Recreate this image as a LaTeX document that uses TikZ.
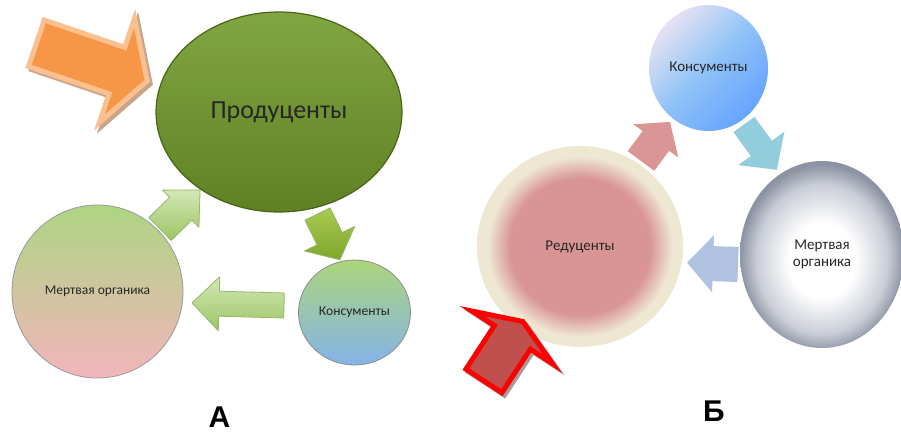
\documentclass[tikz,border=0pt]{standalone}
\usepackage{fontspec}
\setmainfont{Carlito}
\newfontfamily\labfont{Liberation Sans}
\usetikzlibrary{shapes.geometric}
\definecolor{prodtop}{HTML}{80A641}
\definecolor{prodbot}{HTML}{5F8124}
\definecolor{prodline}{HTML}{4A6418}
\definecolor{mogtop}{HTML}{ADD583}
\definecolor{mogmid}{HTML}{D5D1A2}
\definecolor{mogbot}{HTML}{F2B5BB}
\definecolor{kontop}{HTML}{ACD57B}
\definecolor{konmid}{HTML}{A6D6C6}
\definecolor{konbot}{HTML}{84B3EA}
\definecolor{kbtl}{HTML}{E6E2F3}
\definecolor{kbmid}{HTML}{8EC2F7}
\definecolor{kbbr}{HTML}{68A3FF}
\definecolor{redpink}{HTML}{D99594}
\definecolor{redbeige}{HTML}{EEE8D2}
\definecolor{grayA}{HTML}{C9CDD6}
\definecolor{grayB}{HTML}{8C93A3}
\definecolor{orfill}{HTML}{F79646}
\definecolor{orline}{HTML}{FAC090}
\definecolor{orshadow}{HTML}{C9A488}
\definecolor{rdfill}{HTML}{C0504D}
\definecolor{rdshadow}{HTML}{A89A9A}
\definecolor{pinkarr}{HTML}{D99694}
\definecolor{tealarr}{HTML}{92CDDC}
\definecolor{bluearr}{HTML}{AFC2DF}
\definecolor{garlight}{HTML}{D2E8B5}
\definecolor{gardark}{HTML}{9CC566}
\definecolor{garline}{HTML}{93B767}
\definecolor{gbdark}{HTML}{7FA62C}
\definecolor{gblight}{HTML}{A9CB52}
\pgfdeclareradialshading{redushade}{\pgfpoint{0bp}{0bp}}{color(0bp)=(redpink); color(17bp)=(redpink); color(22.5bp)=(redbeige); color(25bp)=(redbeige); color(50bp)=(redbeige)}
\pgfdeclareradialshading{graysph}{\pgfpoint{0bp}{-2bp}}{color(0bp)=(white); color(10bp)=(white); color(20bp)=(grayA); color(25bp)=(grayB); color(50bp)=(grayB)}
\newcommand{\blockarrow}[8]{%
  \begin{scope}[shift={(#1,#2)},rotate=#3]
    \path[#8] (0,-#6) -- (#5,-#6) -- (#5,-#7) -- (#4,0) -- (#5,#7) -- (#5,#6) -- (0,#6) -- cycle;
  \end{scope}}
\tikzset{
  ball/.style={ellipse, inner sep=0pt, outer sep=0pt, align=center, text=black!85},
  gconn/.style={top color=garlight, bottom color=gardark, draw=garline, line width=0.8pt, line join=round},
  gconnb/.style={top color=gblight, bottom color=gbdark, draw=garline, line width=0.8pt, line join=round},
  orangebody/.style={fill=orfill, draw=orline, line width=5pt, line join=miter},
  orangeshade/.style={fill=orshadow, draw=orshadow, line width=5pt, line join=miter},
  redbody/.style={fill=rdfill, draw=red, line width=5pt, line join=miter},
  redshade/.style={fill=rdshadow, draw=rdshadow, line width=5pt, line join=miter},
  panel/.style={font=\labfont\bfseries\fontsize{30}{34}\selectfont, inner sep=0pt, anchor=base, text depth=0pt}
}
\begin{document}
\begin{tikzpicture}[x=1pt,y=-1pt]
\useasboundingbox (0,0) rectangle (901,434);
\fill[white] (0,0) rectangle (901,434);

% ---------- Panel A ----------
% connectors (under the balls)
\blockarrow{160}{229}{44.3}{56}{29}{16}{26}{gconn}
\blockarrow{317.5}{214}{-63.9}{51}{27.5}{14}{28}{gconnb}
\blockarrow{284}{305.5}{178.4}{92}{65}{12.5}{27}{gconn}

\node[ball, minimum width=246pt, minimum height=200pt, top color=prodtop, bottom color=prodbot, draw=prodline, line width=1.2pt,
      font=\fontsize{26}{30}\selectfont] (prod) at (279,112) {Продуценты};
\node[ball, minimum width=171pt, minimum height=173pt, top color=mogtop, middle color=mogmid, bottom color=mogbot, draw=black!40, line width=0.8pt,
      font=\fontsize{13.5}{16}\selectfont] (moA) at (97.5,291.5) {Мертвая органика};
\node[ball, minimum width=112pt, minimum height=105pt, top color=kontop, middle color=konmid, bottom color=konbot, draw=black!45, line width=0.8pt,
      font=\fontsize{13.6}{16}\selectfont] (konA) at (354.5,312.5) {Консументы};

% orange input arrow
\blockarrow{39.4}{46.3}{-18.7}{117}{85}{24.5}{55}{orangeshade}
\blockarrow{36.4}{43.3}{-18.7}{117}{85}{24.5}{55}{orangebody}

\node[panel] (labA) at (219.5,427.5) {А};

% ---------- Panel B ----------
\blockarrow{641}{161}{53.4}{48.6}{25}{16.5}{28}{fill=pinkarr}
\blockarrow{744}{124.5}{-54}{56}{29.5}{13}{28.5}{fill=tealarr}
\blockarrow{738}{264.5}{178}{51}{25}{17.5}{28.5}{fill=bluearr}

\node[ball, minimum width=119pt, minimum height=126pt, top color=kbtl, bottom color=kbbr, middle color=kbmid, shading angle=45,
      font=\fontsize{15}{17}\selectfont] (konB) at (708.5,68) {Консументы};
\node[ball, minimum width=206pt, minimum height=201pt, shading=redushade,
      font=\fontsize{15}{17}\selectfont] (redB) at (580,246.5) {Редуценты};
\node[ball, minimum width=164pt, minimum height=187pt, shading=graysph,
      font=\fontsize{15}{17.5}\selectfont] (moB) at (822,254.5) {Мертвая\\органика};

% red input arrow
\blockarrow{486.4}{383.4}{56.8}{71}{52}{21.5}{48}{redshade}
\blockarrow{483.9}{380.9}{56.8}{71}{52}{21.5}{48}{redbody}

\node[panel] (labB) at (714,421.5) {Б};
\end{tikzpicture}
\end{document}
